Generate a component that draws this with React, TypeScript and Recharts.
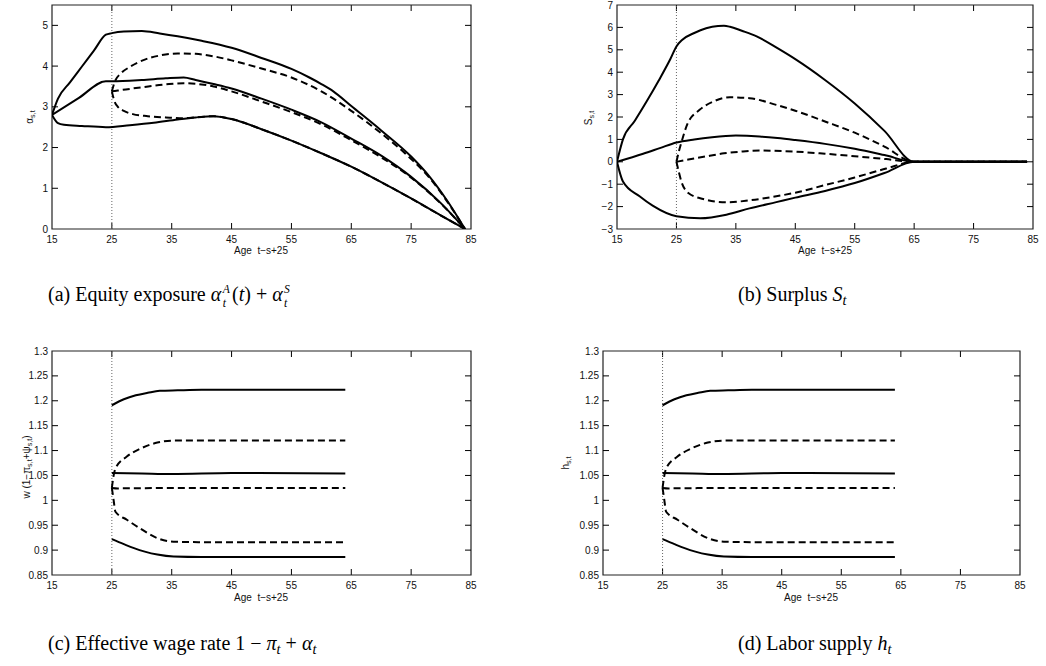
import React from 'react';
import { LineChart, Line, XAxis, YAxis, ReferenceArea, ReferenceLine } from 'recharts';

type Pt = [number, number];

// Axis ticks
const AGE_TICKS = [15, 25, 35, 45, 55, 65, 75, 85];
const EQUITY_TICKS = [0, 1, 2, 3, 4, 5];
const SURPLUS_TICKS = [-3, -2, -1, 0, 1, 2, 3, 4, 5, 6, 7];
const WAGE_TICKS = [0.85, 0.9, 0.95, 1, 1.05, 1.1, 1.15, 1.2, 1.25, 1.3];

// (a) Equity exposure
const equityHigh: Pt[] = [[15, 2.8], [16, 3.2], [18, 3.6], [20, 3.99], [22, 4.38], [24, 4.77], [25, 4.81], [27, 4.85], [30, 4.86], [33, 4.8], [36, 4.73], [40, 4.62], [45, 4.45], [50, 4.2], [55, 3.93], [58, 3.72], [60, 3.56], [62, 3.38], [65, 3.02], [70, 2.42], [75, 1.78], [78, 1.3], [81, 0.7], [84, 0]];
const equityMid: Pt[] = [[15, 2.8], [19.5, 3.22], [24, 3.63], [25, 3.63], [30, 3.66], [34, 3.7], [37, 3.72], [39, 3.66], [42, 3.56], [45, 3.45], [50, 3.2], [55, 2.93], [60, 2.62], [65, 2.22], [70, 1.8], [75, 1.28], [80, 0.63], [84, 0]];
const equityLow: Pt[] = [[15, 2.8], [16, 2.6], [17, 2.56], [20, 2.53], [24, 2.5], [28, 2.55], [32, 2.61], [36, 2.69], [39, 2.74], [42, 2.77], [45, 2.7], [50, 2.45], [55, 2.17], [60, 1.86], [65, 1.53], [70, 1.15], [75, 0.75], [80, 0.33], [84, 0]];
const equityHighAlt: Pt[] = [[25, 3.38], [25.5, 3.62], [26.5, 3.82], [28, 3.98], [30.5, 4.16], [33, 4.26], [36, 4.31], [39, 4.3], [42, 4.24], [45, 4.14], [50, 3.94], [55, 3.72], [60, 3.38], [65, 2.9], [70, 2.35], [75, 1.72], [78, 1.27], [81, 0.68], [84, 0]];
const equityMidAlt: Pt[] = [[25, 3.38], [26, 3.4], [30, 3.48], [34, 3.55], [37, 3.58], [40, 3.55], [42, 3.5], [45, 3.38], [50, 3.13], [55, 2.87], [60, 2.57], [65, 2.18], [70, 1.76], [75, 1.26], [80, 0.62], [84, 0]];
const equityLowAlt: Pt[] = [[25, 3.38], [25.4, 3.15], [26, 3.0], [27, 2.9], [28.5, 2.82], [31, 2.77], [34, 2.74], [37, 2.72], [39, 2.74], [42, 2.77], [45, 2.7], [50, 2.45], [55, 2.17], [60, 1.86], [65, 1.53], [70, 1.15], [75, 0.75], [80, 0.33], [84, 0]];

// (b) Surplus
const surplusHigh: Pt[] = [[15, 0], [16, 1.0], [18, 1.83], [20, 2.7], [22, 3.62], [24, 4.6], [25, 5.15], [26, 5.45], [28, 5.75], [30, 5.96], [32, 6.06], [33, 6.07], [34, 6.03], [36, 5.85], [38.5, 5.6], [42, 5.07], [45, 4.58], [50, 3.65], [55, 2.6], [60, 1.38], [65, 0], [84, 0]];
const surplusMid: Pt[] = [[15, 0], [19.4, 0.36], [22.2, 0.61], [25, 0.86], [28, 1.0], [31, 1.1], [35, 1.17], [39, 1.13], [42, 1.06], [45, 0.97], [50, 0.8], [55, 0.58], [60, 0.3], [65, 0], [84, 0]];
const surplusLow: Pt[] = [[15, 0], [16, -0.88], [18.8, -1.54], [21, -1.96], [25, -2.43], [29, -2.52], [33.4, -2.36], [37.3, -2.08], [41.8, -1.8], [45, -1.6], [50, -1.3], [55, -0.95], [60, -0.5], [65, 0], [84, 0]];
const surplusHighAlt: Pt[] = [[25, 0], [25.4, 0.45], [25.8, 0.83], [26.9, 1.72], [28.9, 2.32], [31.2, 2.69], [34, 2.88], [37.3, 2.84], [41.8, 2.54], [45, 2.28], [50, 1.8], [55, 1.3], [60, 0.68], [65, 0], [84, 0]];
const surplusMidAlt: Pt[] = [[25, 0], [27, 0.1], [30.6, 0.27], [33, 0.38], [36.2, 0.46], [39, 0.5], [44.6, 0.46], [50, 0.36], [55, 0.25], [60.3, 0.12], [65, 0], [84, 0]];
const surplusLowAlt: Pt[] = [[25, 0], [25.4, -0.45], [25.8, -0.85], [27, -1.39], [29.5, -1.66], [33.4, -1.81], [37.3, -1.72], [41.8, -1.54], [45, -1.38], [50, -1.04], [55, -0.7], [60.3, -0.3], [65, 0], [84, 0]];

// (c) Effective wage rate
const wageHigh: Pt[] = [[25, 1.191], [27, 1.203], [29, 1.211], [31, 1.216], [33, 1.22], [36, 1.221], [40, 1.222], [50, 1.222], [64, 1.222]];
const wageMid: Pt[] = [[25, 1.055], [30, 1.054], [35, 1.053], [45, 1.055], [64, 1.054]];
const wageLow: Pt[] = [[25, 0.922], [27, 0.912], [28.7, 0.904], [30.5, 0.897], [32.6, 0.891], [35.3, 0.887], [40, 0.886], [64, 0.886]];
const wageHighAlt: Pt[] = [[25, 1.025], [25.3, 1.05], [25.6, 1.064], [27.5, 1.088], [29.8, 1.104], [32.6, 1.116], [35.3, 1.12], [40, 1.12], [64, 1.12]];
const wageMidAlt: Pt[] = [[25, 1.025], [26, 1.024], [35, 1.025], [64, 1.025]];
const wageLowAlt: Pt[] = [[25, 1.025], [25.3, 1.0], [25.6, 0.977], [27.5, 0.961], [29.8, 0.943], [32.6, 0.924], [35.3, 0.917], [40, 0.916], [64, 0.916]];

// (d) Labor supply
const laborHigh: Pt[] = [[25, 1.191], [27, 1.203], [29, 1.211], [31, 1.216], [33, 1.22], [36, 1.221], [40, 1.222], [50, 1.222], [64, 1.222]];
const laborMid: Pt[] = [[25, 1.055], [30, 1.054], [35, 1.053], [45, 1.055], [64, 1.054]];
const laborLow: Pt[] = [[25, 0.922], [27, 0.912], [28.7, 0.904], [30.5, 0.897], [32.6, 0.891], [35.3, 0.887], [40, 0.886], [64, 0.886]];
const laborHighAlt: Pt[] = [[25, 1.025], [25.3, 1.05], [25.6, 1.064], [27.5, 1.088], [29.8, 1.104], [32.6, 1.116], [35.3, 1.12], [40, 1.12], [64, 1.12]];
const laborMidAlt: Pt[] = [[25, 1.025], [26, 1.024], [35, 1.025], [64, 1.025]];
const laborLowAlt: Pt[] = [[25, 1.025], [25.3, 1.0], [25.6, 0.977], [27.5, 0.961], [29.8, 0.943], [32.6, 0.924], [35.3, 0.917], [40, 0.916], [64, 0.916]];

interface Series { id: string; points: Pt[]; dashed: boolean }

const toRows = (pts: Pt[]) => pts.map(([age, v]) => ({ age, v }));

const AXIS_FONT = '"Liberation Sans", Arial, sans-serif';
const SERIF = '"Liberation Serif", "Times New Roman", serif';
const INK = '#111';
const Y_AXIS_W = 50;
const X_AXIS_H = 35;
const PAD_TOP = 5;
const PAD_RIGHT = 6;
const TICK_LEN = 6;
const AGE_DOMAIN: [number, number] = [15, 85];

const fmt = (v: number) => (v < 0 ? '\u2212' + String(-v) : String(v));

function XTick(props: any) {
  const { x, y, payload } = props;
  return (
    <text x={x} y={y + 13.5} textAnchor="middle" fontSize={10} fontFamily={AXIS_FONT} fill={INK}>
      {fmt(payload.value)}
    </text>
  );
}

function YTick(props: any) {
  const { x, y, payload } = props;
  return (
    <text x={x - 4} y={y + 3.5} textAnchor="end" fontSize={10} fontFamily={AXIS_FONT} fill={INK}>
      {fmt(payload.value)}
    </text>
  );
}

interface PanelProps {
  plotLeft: number;
  plotTop: number;
  plotW: number;
  plotH: number;
  yDomain: [number, number];
  yTicks: number[];
  series: Series[];
}

function Panel({ plotLeft, plotTop, plotW, plotH, yDomain, yTicks, series }: PanelProps) {
  const width = Y_AXIS_W + plotW + PAD_RIGHT;
  const height = PAD_TOP + plotH + X_AXIS_H;
  const [x0, x1] = AGE_DOMAIN;
  const [y0, y1] = yDomain;
  // inward tick length and half tick thickness in data units
  const dx = ((x1 - x0) * TICK_LEN) / plotW;
  const dy = ((y1 - y0) * TICK_LEN) / plotH;
  const halfW = ((x1 - x0) * 0.5) / plotW;
  const tickStyle = { stroke: '#000', strokeWidth: 1, ifOverflow: 'visible' as const };
  const xMarks = AGE_TICKS.slice(1, -1);
  return (
    <div style={{ position: 'absolute', left: plotLeft - Y_AXIS_W, top: plotTop - PAD_TOP }}>
      <LineChart width={width} height={height} margin={{ top: PAD_TOP, right: PAD_RIGHT, bottom: 0, left: 0 }}>
        <XAxis
          type="number"
          dataKey="age"
          domain={AGE_DOMAIN}
          ticks={AGE_TICKS}
          interval={0}
          height={X_AXIS_H}
          axisLine={false}
          tickLine={false}
          tickSize={0}
          tickMargin={0}
          allowDataOverflow
          tick={(p: any) => <XTick {...p} />}
        />
        <YAxis
          type="number"
          domain={yDomain}
          ticks={yTicks}
          interval={0}
          width={Y_AXIS_W}
          axisLine={false}
          tickLine={false}
          tickSize={0}
          tickMargin={0}
          allowDataOverflow
          tick={(p: any) => <YTick {...p} />}
        />
        <ReferenceLine x={25} stroke="#666" strokeWidth={1} strokeDasharray="1 2" />
        {series.map((s) => (
          <Line
            key={s.id}
            data={toRows(s.points)}
            dataKey="v"
            type="monotone"
            stroke="#000"
            strokeWidth={2}
            strokeDasharray={s.dashed ? '7 4' : undefined}
            strokeLinejoin="round"
            dot={false}
            activeDot={false}
            isAnimationActive={false}
          />
        ))}
        {xMarks.map((t) => (
          <ReferenceArea key={`xb${t}`} x1={t - halfW} x2={t + halfW} y1={y0} y2={y0 + dy} fill="#000" fillOpacity={1} stroke="none" ifOverflow="visible" />
        ))}
        {xMarks.map((t) => (
          <ReferenceArea key={`xt${t}`} x1={t - halfW} x2={t + halfW} y1={y1 - dy} y2={y1} fill="#000" fillOpacity={1} stroke="none" ifOverflow="visible" />
        ))}
        {yTicks.filter((t) => t > y0 && t < y1).map((t) => (
          <ReferenceLine key={`yl${t}`} segment={[{ x: x0, y: t }, { x: x0 + dx, y: t }]} {...tickStyle} />
        ))}
        {yTicks.filter((t) => t > y0 && t < y1).map((t) => (
          <ReferenceLine key={`yr${t}`} segment={[{ x: x1, y: t }, { x: x1 - dx, y: t }]} {...tickStyle} />
        ))}
        <ReferenceArea x1={x0} x2={x1} y1={y0} y2={y1} fill="none" fillOpacity={0} stroke="#222" strokeWidth={1.2} ifOverflow="visible" />
      </LineChart>
    </div>
  );
}

const Sub = ({ children }: { children: React.ReactNode }) => (
  <span style={{ fontSize: '0.72em', position: 'relative', top: '0.3em' }}>{children}</span>
);

// italic superscript stacked above a subscript, placed after a symbol
const SubSup = ({ sub, sup }: { sub: string; sup: string }) => (
  <span
    style={{
      display: 'inline-flex',
      flexDirection: 'column',
      verticalAlign: '0.7em',
      fontSize: '0.58em',
      lineHeight: 1.25,
      fontStyle: 'italic',
      marginLeft: '0.12em',
      marginRight: '0.2em',
    }}
  >
    <span>{sup}</span>
    <span>{sub}</span>
  </span>
);

const AxisTitleX = ({ cx, cy }: { cx: number; cy: number }) => (
  <div
    style={{
      position: 'absolute',
      left: cx,
      top: cy,
      transform: 'translate(-50%, -50%)',
      fontFamily: AXIS_FONT,
      fontSize: 10,
      whiteSpace: 'pre',
      color: INK,
    }}
  >
    {'Age  t\u2212s+25'}
  </div>
);

const AxisTitleY = ({ cx, cy, children }: { cx: number; cy: number; children: React.ReactNode }) => (
  <div
    style={{
      position: 'absolute',
      left: cx,
      top: cy,
      transform: 'translate(-50%, -50%) rotate(-90deg)',
      fontFamily: AXIS_FONT,
      fontSize: 10,
      whiteSpace: 'pre',
      color: INK,
    }}
  >
    {children}
  </div>
);

const Caption = ({ left, top, children }: { left: number; top: number; children: React.ReactNode }) => (
  <div
    style={{
      position: 'absolute',
      left,
      top,
      fontFamily: SERIF,
      fontSize: 20,
      whiteSpace: 'nowrap',
      color: '#000',
    }}
  >
    {children}
  </div>
);

export default function App() {
  const equitySeries: Series[] = [
    { id: 'hi', points: equityHigh, dashed: false },
    { id: 'mid', points: equityMid, dashed: false },
    { id: 'lo', points: equityLow, dashed: false },
    { id: 'hi2', points: equityHighAlt, dashed: true },
    { id: 'mid2', points: equityMidAlt, dashed: true },
    { id: 'lo2', points: equityLowAlt, dashed: true },
  ];
  const surplusSeries: Series[] = [
    { id: 'hi', points: surplusHigh, dashed: false },
    { id: 'mid', points: surplusMid, dashed: false },
    { id: 'lo', points: surplusLow, dashed: false },
    { id: 'hi2', points: surplusHighAlt, dashed: true },
    { id: 'mid2', points: surplusMidAlt, dashed: true },
    { id: 'lo2', points: surplusLowAlt, dashed: true },
  ];
  const wageSeries: Series[] = [
    { id: 'hi', points: wageHigh, dashed: false },
    { id: 'mid', points: wageMid, dashed: false },
    { id: 'lo', points: wageLow, dashed: false },
    { id: 'hi2', points: wageHighAlt, dashed: true },
    { id: 'mid2', points: wageMidAlt, dashed: true },
    { id: 'lo2', points: wageLowAlt, dashed: true },
  ];
  const laborSeries: Series[] = [
    { id: 'hi', points: laborHigh, dashed: false },
    { id: 'mid', points: laborMid, dashed: false },
    { id: 'lo', points: laborLow, dashed: false },
    { id: 'hi2', points: laborHighAlt, dashed: true },
    { id: 'mid2', points: laborMidAlt, dashed: true },
    { id: 'lo2', points: laborLowAlt, dashed: true },
  ];

  return (
    <div
      style={{
        position: 'absolute',
        left: 0,
        top: 0,
        width: 1046,
        height: 666,
        overflow: 'hidden',
        background: '#fff',
      }}
    >
      <Panel plotLeft={52} plotTop={5} plotW={419} plotH={224} yDomain={[0, 5.5]} yTicks={EQUITY_TICKS} series={equitySeries} />
      <Panel plotLeft={617} plotTop={5} plotW={416} plotH={224} yDomain={[-3, 7]} yTicks={SURPLUS_TICKS} series={surplusSeries} />
      <Panel plotLeft={52} plotTop={351} plotW={419} plotH={224} yDomain={[0.85, 1.3]} yTicks={WAGE_TICKS} series={wageSeries} />
      <Panel plotLeft={603} plotTop={351} plotW={417} plotH={224} yDomain={[0.85, 1.3]} yTicks={WAGE_TICKS} series={laborSeries} />

      <AxisTitleX cx={261} cy={250} />
      <AxisTitleX cx={825} cy={250} />
      <AxisTitleX cx={261} cy={597} />
      <AxisTitleX cx={811} cy={597} />

      <AxisTitleY cx={29} cy={117}>
        {'\u03b1'}
        <Sub>s,t</Sub>
      </AxisTitleY>
      <AxisTitleY cx={588} cy={118}>
        {'S'}
        <Sub>s,t</Sub>
      </AxisTitleY>
      <AxisTitleY cx={26} cy={467}>
        {'w (1\u2212\u03c0'}
        <Sub>s,t</Sub>
        {'+\u03c8'}
        <Sub>s,t</Sub>
        {')'}
      </AxisTitleY>
      <AxisTitleY cx={565} cy={463}>
        {'h'}
        <Sub>s,t</Sub>
      </AxisTitleY>

      <Caption left={48} top={283}>
        (a) Equity exposure <i>{'\u03b1'}</i>
        <SubSup sub="t" sup="A" />(<i>t</i>) + <i>{'\u03b1'}</i>
        <SubSup sub="t" sup="S" />
      </Caption>
      <Caption left={738} top={283}>
        (b) Surplus <i>S</i>
        <Sub>
          <i>t</i>
        </Sub>
      </Caption>
      <Caption left={48} top={632}>
        (c) Effective wage rate 1 {'\u2212'} <i>{'\u03c0'}</i>
        <Sub>
          <i>t</i>
        </Sub>{' '}
        + <i>{'\u03b1'}</i>
        <Sub>
          <i>t</i>
        </Sub>
      </Caption>
      <Caption left={738} top={632}>
        (d) Labor supply <i>h</i>
        <Sub>
          <i>t</i>
        </Sub>
      </Caption>
    </div>
  );
}
